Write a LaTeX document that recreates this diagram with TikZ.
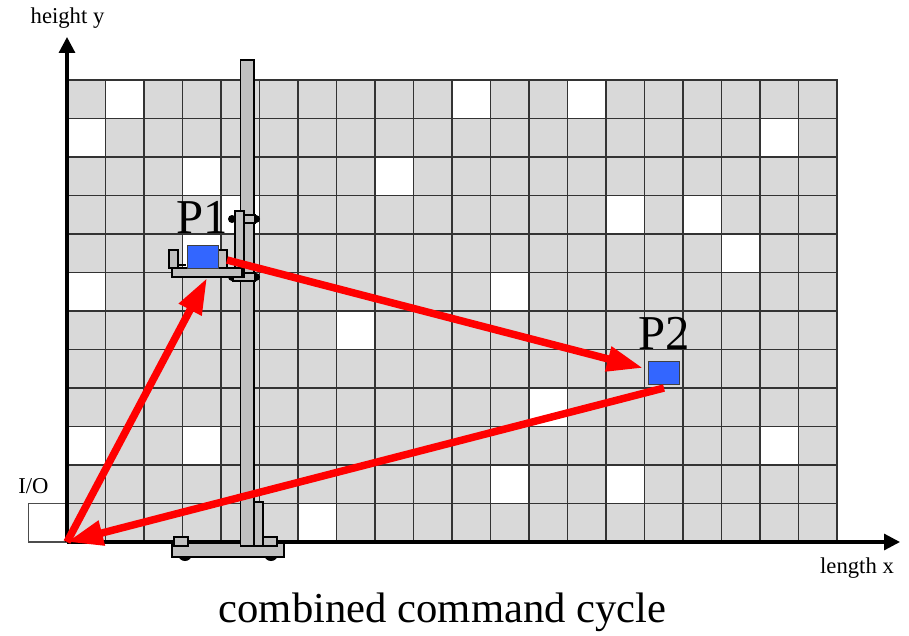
\documentclass[tikz,border=0pt]{standalone}
\usepackage{fontspec}
\setmainfont{Liberation Serif}
\usetikzlibrary{arrows.meta}
\definecolor{cellgray}{HTML}{D9D9D9}
\definecolor{cranegray}{HTML}{C0C0C0}
\definecolor{loadblue}{HTML}{3366FF}
\tikzset{
  cell/.style={draw=black!80,fill=cellgray,line width=1pt},
  freecell/.style={draw=black!80,fill=white,line width=1pt},
  axis/.style={black,line width=2.4pt,-{Triangle[length=12pt,width=12pt]}},
  crane/.style={draw=black,fill=cranegray,line width=1.1pt},
  wheel/.style={fill=black},
  load/.style={draw=black!75,fill=loadblue,line width=1pt,minimum width=23.25pt,minimum height=17.25pt,inner sep=0pt,anchor=north west},
  route/.style={red,line width=5.6pt,-{Triangle[length=27pt,width=18pt]}},
  lbl/.style={font=\fontsize{17}{19}\selectfont,inner sep=0pt},
  biglbl/.style={font=\fontsize{32}{36}\selectfont,inner sep=0pt},
  pointlbl/.style={font=\fontsize{36.5}{40}\selectfont,inner sep=0pt,anchor=base west}
}
\begin{document}
\begin{tikzpicture}[x=0.75pt,y=-0.75pt]
\useasboundingbox (0,0) rectangle (909,635);
% rack
\foreach \col in {0,...,19}
  \foreach \row in {0,...,11}
    \draw[cell] (67+\col*38.5,80+\row*38.5) rectangle ++(38.5,38.5);
\foreach \col/\row in {1/0,10/0,13/0,0/1,18/1,3/2,8/2,4/3,14/3,16/3,3/4,17/4,0/5,11/5,7/6,12/8,0/9,3/9,18/9,11/10,14/10,6/11}
  \draw[freecell] (67+\col*38.5,80+\row*38.5) rectangle ++(38.5,38.5);
\draw[draw=black!70,fill=white,line width=0.8pt] (28.5,503.5) rectangle (67,542);
% axes
\coordinate (origin) at (67,542);
\coordinate (ytip) at (67,37);
\coordinate (xtip) at (900,542);
\draw[axis] (origin) -- (ytip);
\draw[axis] (origin) -- (xtip);
% crane
\fill[wheel] (185,554) circle (7);
\fill[wheel] (271,554) circle (7);
\draw[crane] (172,543) rectangle (284,557);
\draw[crane] (174,537) rectangle (188,546);
\draw[crane] (263,537) rectangle (277,546);
\draw[crane] (240.5,60) rectangle (254,546);
\draw[crane] (254,502) rectangle (263,546);
% lifting carriage
\foreach \px/\py in {232/219,256/219,232/277,256/277}
  \fill[wheel] (\px,\py) circle (4);
\draw[crane] (244,215) rectangle (255,223);
\draw[crane] (233,273) rectangle (255,281);
\draw[crane] (235,211) rectangle (244,277);
\draw[crane] (169,250) rectangle (178,268);
\draw[crane] (218,250) rectangle (227,268);
\draw[black,line width=2pt] (178,265) -- (186,265);
\draw[crane] (172,268) rectangle (242,277);
% loads
\node[load] (loadA) at (186.5,245) {};
\node[load] (loadB) at (648,361) {};
\node[pointlbl] (labelA) at (176,233) {P1};
\node[pointlbl] (labelB) at (638,349) {P2};
% command cycle
\coordinate (io) at (67,542);
\coordinate (pickup) at (207,278);
\coordinate (pone) at (227,260);
\coordinate (ptwo) at (643,368);
\coordinate (ptwoout) at (664,388);
\draw[route] (io) -- (pickup);
\draw[route] (pone) -- (ptwo);
\draw[route] (ptwoout) -- (io);
% texts
\node[lbl] (ylabel) at (67.5,18) {height y};
\node[lbl] (iolabel) at (33.5,486) {I/O};
\node[lbl] (xlabel) at (857,568) {length x};
\node[biglbl] (caption) at (442.5,612) {combined command cycle};
\end{tikzpicture}
\end{document}
